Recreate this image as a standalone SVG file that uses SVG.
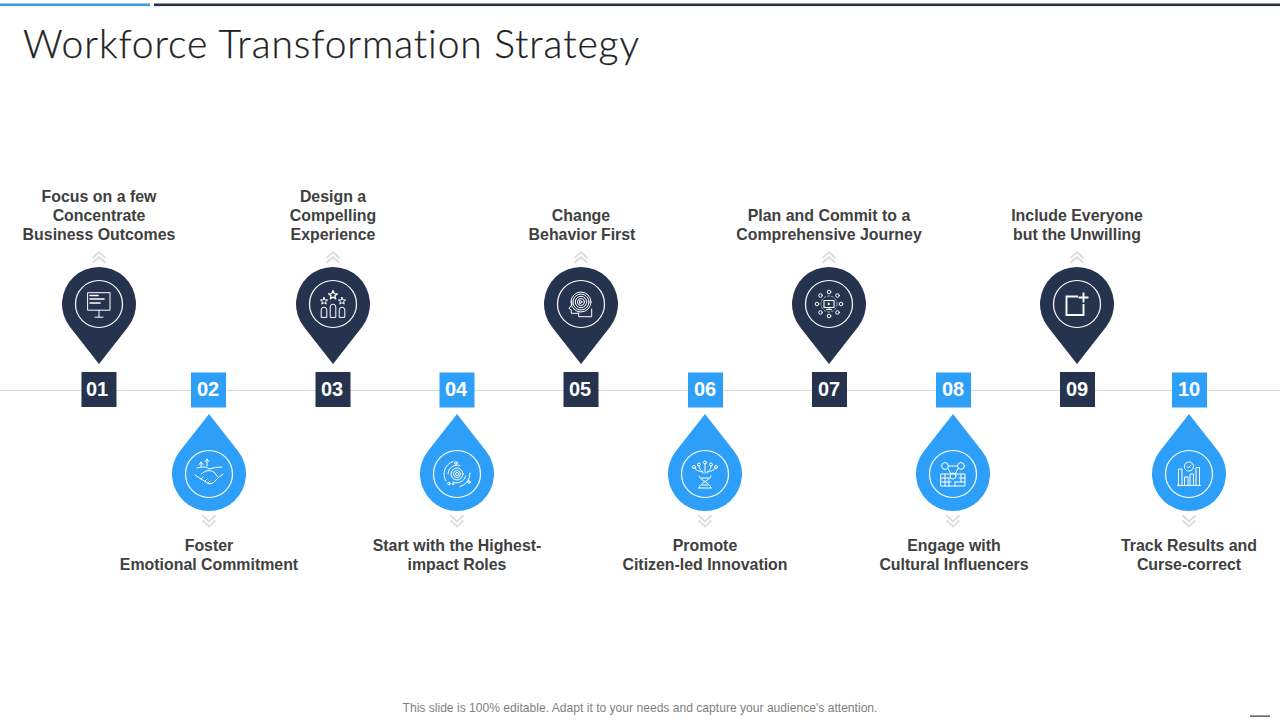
<svg xmlns="http://www.w3.org/2000/svg" width="1280" height="720" viewBox="0 0 1280 720">
<style>
text{font-family:"Liberation Sans",Arial,sans-serif}
.title{font-family:Lato,"Liberation Sans",sans-serif;font-weight:300;font-size:39px;fill:#222;font-variant-ligatures:none;stroke:#222;stroke-width:.25}
.lbl{font-weight:700;font-size:15.9px;fill:#404040;text-anchor:middle}
.num{font-weight:700;font-size:20px;fill:#fff;text-anchor:middle}
.foot{font-size:12.1px;fill:#7f7f7f;text-anchor:middle}
.dark{fill:#25334f}
.blue{fill:#2e9ff8}
.ring{fill:none;stroke:#fff;stroke-width:1.2}
.ic{fill:none;stroke:#fff;stroke-width:1;stroke-linecap:round;stroke-linejoin:round}
.chev{fill:none;stroke:#dcdcdc;stroke-width:1.8}
</style>
<defs>
<g id="pin"><path class="dark" d="M0 60L-29 23A37 37 0 1 1 29 23Z"/><circle class="ring" r="23.5"/><path class="chev" d="M-6.5 -46L0 -52L6.5 -46M-6.5 -41L0 -47L6.5 -41"/></g>
<g id="drop"><path class="blue" d="M0 -60L-29 -23A37 37 0 1 0 29 -23Z"/><circle class="ring" r="23.5"/><path class="chev" d="M-6.5 41.5L0 47.5L6.5 41.5M-6.5 46.5L0 52.5L6.5 46.5"/></g>
<path id="star" d="M0 -3.6L1 -1.1L3.6 -1L1.6 .6L2.2 3.1L0 1.7L-2.2 3.1L-1.6 .6L-3.6 -1L-1 -1.1Z"/>
</defs>
<rect x="0" y="3.5" width="150" height="2.6" fill="#3d9bd8"/>
<rect x="154" y="3.5" width="1126" height="2.6" fill="#2a3142"/>
<text class="title" x="23" y="58" textLength="616" lengthAdjust="spacing">Workforce Transformation Strategy</text>
<g id="connectors"><line x1="0" y1="390.5" x2="1280" y2="390.5" stroke="#d6d6d6" stroke-width="1"/></g>

<g id="node-01"><use href="#pin" x="99" y="304"/><rect class="dark" x="81.5" y="372" width="35" height="35"/><text class="num" x="97" y="396">01</text>
<text class="lbl" x="99" y="202">Focus on a few</text><text class="lbl" x="99" y="221">Concentrate</text><text class="lbl" x="99" y="240">Business Outcomes</text>
<g class="ic" transform="translate(99,304)"><rect x="-11" y="-11.3" width="22" height="17.5"/><path d="M0 6.2V13M-4 13.2H4"/><path stroke-width="1.6" d="M-9 -8.5H-1M-9 -5H5M-9 -1H1"/></g></g>

<g id="node-02"><use href="#drop" x="209" y="474"/><rect class="blue" x="191" y="372.5" width="35" height="35"/><text class="num" x="208" y="396">02</text>
<text class="lbl" x="209" y="551">Foster</text><text class="lbl" x="209" y="570">Emotional Commitment</text>
<g class="ic" transform="translate(209,474)"><path d="M-2 -8V-15M-4 -12.5L-2 -15L0 -12.5M-8 -7V-12M-10 -9.5L-8 -12L-6 -9.5M-12 -6C-7 -7 -3 -8 0 -5C4 -6 9 -7 13 -7M-14 1L-8 5L0 10L4 9L9 4L14 0M-8 0L-3 -3C0 -4 3 -3 5 -2L9 3M-8 5L-6 3M-4 7L-2 5M-1 9L1 7"/></g></g>

<g id="node-03"><use href="#pin" x="333" y="304"/><rect class="dark" x="315.5" y="372" width="35" height="35"/><text class="num" x="332" y="396">03</text>
<text class="lbl" x="333" y="202">Design a</text><text class="lbl" x="333" y="221">Compelling</text><text class="lbl" x="333" y="240">Experience</text>
<g class="ic" transform="translate(333,304)"><use href="#star" transform="translate(0,-9) scale(1.25)"/><use href="#star" x="-9" y="-3"/><use href="#star" x="9" y="-3"/><path d="M-2.8 13V3A2.8 2.8 0 0 1 2.8 3V13ZM-11.8 13V6A2.8 2.8 0 0 1 -6.2 6V13ZM6.2 13V6A2.8 2.8 0 0 1 11.8 6V13Z"/></g></g>

<g id="node-04"><use href="#drop" x="457" y="474"/><rect class="blue" x="439.5" y="372.5" width="35" height="35"/><text class="num" x="456" y="396">04</text>
<text class="lbl" x="457" y="551">Start with the Highest-</text><text class="lbl" x="457" y="570">impact Roles</text>
<g class="ic" transform="translate(457,474)"><circle r="1.6"/><circle r="3.6"/><circle r="6"/><path d="M-9 0A9 9 0 0 1 3 -8.5M8.7 2A9 9 0 0 1 -4 8M-11 7A13 13 0 0 1 -4 -12.5M13 -1A13 13 0 0 1 3 12.5"/><circle cx="-1" cy="-11" r="1.3"/><circle cx="-8" cy="9.5" r="1.3"/><circle cx="12" cy="8" r="1.3"/><circle cx="-4" cy="10" r=".8"/></g></g>

<g id="node-05"><use href="#pin" x="581" y="304"/><rect class="dark" x="563.5" y="372" width="35" height="35"/><text class="num" x="580" y="396">05</text>
<text class="lbl" x="581" y="221">Change</text><text class="lbl" x="582" y="240">Behavior First</text>
<g class="ic" transform="translate(581,304)"><circle cy="-2" r="3.5"/><circle cy="-2" r="5.7"/><circle cy="-2" r="8"/><circle cy="-2" r="10"/><path d="M-1 -3.5L1.5 -2L-1 -.5Z"/><path d="M-2.3 9V12.7H10.7V5M-9.5 -3L-9 .5L-12 4.5L-9.7 6V9.3H-2.3"/></g></g>

<g id="node-06"><use href="#drop" x="705" y="474"/><rect class="blue" x="688" y="372.5" width="35" height="35"/><text class="num" x="705" y="396">06</text>
<text class="lbl" x="705" y="551">Promote</text><text class="lbl" x="705" y="570">Citizen-led Innovation</text>
<g class="ic" transform="translate(705,474)"><path d="M-6 14H6M-6 14C-6 9 6 6 6 2M6 14C6 9 -6 6 -6 2M-4 4H4M-3 11H3M-2 -1C-2 -4 -6 -3 -6 -8M2 -1C2 -4 6 -3 6 -8M0 -1V-10M-2 -2C-6 -3 -9 -3 -10 -6M2 -2C6 -3 9 -3 10 -6"/><circle cx="-11" cy="-7" r="1.5"/><circle cx="-6" cy="-9.5" r="1.5"/><circle cx="0" cy="-11.5" r="1.5"/><circle cx="6" cy="-9.5" r="1.5"/><circle cx="11" cy="-7" r="1.5"/></g></g>

<g id="node-07"><use href="#pin" x="829" y="304"/><rect class="dark" x="812" y="372" width="35" height="35"/><text class="num" x="829" y="396">07</text>
<text class="lbl" x="829" y="221">Plan and Commit to a</text><text class="lbl" x="829" y="240">Comprehensive Journey</text>
<g class="ic" transform="translate(829,304)"><rect x="-5" y="-3.5" width="10" height="7" stroke-width="1.1"/><path d="M-2.5 5.5H2.5M0 3.5V5.5"/><path fill="#fff" stroke="none" d="M-1.2 -2L1.5 0L-1.2 1.5Z"/><circle r="8" stroke-dasharray="2 2" stroke-width=".6"/><circle cx="0" cy="-12" r="1.8"/><circle cx="0" cy="12" r="1.8"/><circle cx="-12" cy="0" r="1.8"/><circle cx="12" cy="0" r="1.8"/><circle cx="-8.5" cy="-8.5" r="1.8"/><circle cx="8.5" cy="-8.5" r="1.8"/><circle cx="-8.5" cy="8.5" r="1.8"/><circle cx="8.5" cy="8.5" r="1.8"/></g></g>

<g id="node-08"><use href="#drop" x="953" y="474"/><rect class="blue" x="936" y="372.5" width="35" height="35"/><text class="num" x="953" y="396">08</text>
<text class="lbl" x="954" y="551">Engage with</text><text class="lbl" x="954" y="570">Cultural Influencers</text>
<g class="ic" transform="translate(953,474)"><rect x="-12" y="0" width="24" height="12"/><path d="M-12 4H-4M-12 8H-2M-8 0V12M-4 4V12M2 8H12M6 4H12M8 0V8M2 8V12"/><circle cx="-8" cy="-8" r="3.4"/><circle cx="8" cy="-8" r="3.4"/><circle cx="0" cy="2" r="3"/><path d="M-4.6 -8H4.6M-5 -5.5L-2 0M5 -5.5L2 0"/></g></g>

<g id="node-09"><use href="#pin" x="1077" y="304"/><rect class="dark" x="1060" y="372" width="35" height="35"/><text class="num" x="1077" y="396">09</text>
<text class="lbl" x="1077" y="221">Include Everyone</text><text class="lbl" x="1077" y="240">but the Unwilling</text>
<g class="ic" transform="translate(1077,304)" style="stroke-width:1.9;stroke-linecap:butt;stroke-linejoin:miter"><path d="M1 -7.5H-10.5V11H6.5V0M6.5 -11.5V-1.5M1.5 -6.5H11.5"/></g></g>

<g id="node-10"><use href="#drop" x="1189" y="474"/><rect class="blue" x="1172" y="372.5" width="35" height="35"/><text class="num" x="1189" y="396">10</text>
<text class="lbl" x="1189" y="551">Track Results and</text><text class="lbl" x="1189" y="570">Curse-correct</text>
<g class="ic" transform="translate(1189,474)"><path d="M-11.5 11.5H11.5M-10.5 11.5V-5H-7V11.5M-4.5 11.5V3H-1V11.5M1 11.5V0H4.5V11.5M7 11.5V-6.5H10.5V11.5"/><circle cy="-7.5" r="4.6"/><path d="M-2 -7.5L-.5 -6L2 -9"/></g></g>

<text class="foot" x="640" y="712">This slide is 100% editable. Adapt it to your needs and capture your audience's attention.</text>
<rect x="1250" y="715.5" width="20" height="1.2" fill="#333"/>
</svg>
